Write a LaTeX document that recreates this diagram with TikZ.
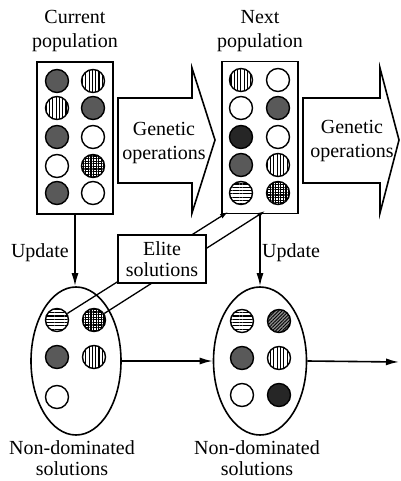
\documentclass[tikz,border=0pt]{standalone}
\usepackage{fontspec}
\setmainfont{Liberation Serif}
\usetikzlibrary{patterns.meta,arrows.meta,shapes.geometric}
\tikzset{
  lbl/.style={font=\fontsize{20}{24}\selectfont, align=center, inner sep=0pt},
  popbox/.style={draw, line width=1.6pt, minimum width=76pt, minimum height=152pt, inner sep=0pt},
  ndset/.style={ellipse, draw, line width=1.6pt, minimum height=148pt, inner sep=0pt},
  sol/.style={circle, draw, line width=1.4pt, minimum size=23pt, inner sep=0pt},
  stip/.style={sol, fill=black!65},
  vdark/.style={sol, fill=black!85},
  wht/.style={sol, fill=white},
  vert/.style={sol, pattern={Lines[angle=90,distance=3.3pt,line width=1.1pt]}},
  horz/.style={sol, pattern={Lines[angle=0,distance=3.3pt,line width=1.1pt]}},
  grd/.style={sol, preaction={pattern={Lines[angle=0,distance=2.6pt,line width=1.1pt]}},
              pattern={Lines[angle=90,distance=2.6pt,line width=1.1pt]}},
  diag/.style={sol, preaction={fill=black!45}, pattern={Lines[angle=45,distance=2.4pt,line width=0.9pt]}},
  blockarrow/.style={draw, line width=1.6pt, line join=miter},
  conn/.style={draw, line width=1.6pt, -{Latex[length=13pt,width=7pt]}},
  eliteconn/.style={draw, line width=1.3pt, -{Latex[length=8pt,width=5pt]}},
}
\begin{document}
\begin{tikzpicture}[x=1pt,y=-1pt]
\useasboundingbox (0,0) rectangle (400,481);

% population labels
\node[lbl] (curlbl) at (75,31) {Current\\population};
\node[lbl] (nxtlbl) at (260,31) {Next\\population};

% population boxes
\node[popbox] (cur) at (75,138) {};
\node[popbox] (nxt) at (260,137.5) {};

% current population
\node[stip] (c11) at (57,81) {};  \node[vert] (c12) at (93,81) {};
\node[vert] (c21) at (57,108) {}; \node[stip] (c22) at (93,108) {};
\node[stip] (c31) at (57,137) {}; \node[wht]  (c32) at (93,137) {};
\node[wht]  (c41) at (57,166) {}; \node[grd]  (c42) at (93,166) {};
\node[stip] (c51) at (57,193) {}; \node[wht]  (c52) at (93,193) {};

% next population
\node[vert]  (n11) at (241,80) {};  \node[wht]  (n12) at (278,80) {};
\node[wht]   (n21) at (241,108) {}; \node[stip] (n22) at (278,108) {};
\node[vdark] (n31) at (241,137) {}; \node[wht]  (n32) at (278,137) {};
\node[stip]  (n41) at (241,165) {}; \node[vert] (n42) at (278,165) {};
\node[horz]  (n51) at (241,193) {}; \node[grd]  (n52) at (278,193) {};

% block arrows
\path[blockarrow] (118,98) -- (192,98) -- (192,68) -- (215,140) -- (192,213) -- (192,183) -- (118,183) -- cycle;
\path[blockarrow] (303,98) -- (380,98) -- (380,68) -- (399,140) -- (380,213) -- (380,183) -- (303,183) -- cycle;
\node[lbl] (gen1) at (164,143) {Genetic\\operations};
\node[lbl] (gen2) at (352,141) {Genetic\\operations};

% non-dominated sets
\node[ndset, minimum width=90pt] (nd1) at (76,361) {};
\node[ndset, minimum width=93pt] (nd2) at (260,361) {};

\node[horz] (e11) at (57,320) {}; \node[grd]  (e12) at (94,320) {};
\node[stip] (e21) at (57,357) {}; \node[vert] (e22) at (94,357) {};
\node[wht]  (e31) at (57,397) {};

\node[horz] (f11) at (242,321) {}; \node[diag]  (f12) at (279,321) {};
\node[stip] (f21) at (242,358) {}; \node[vert]  (f22) at (279,358) {};
\node[wht]  (f31) at (242,395) {}; \node[vdark] (f32) at (279,395) {};

\node[lbl, font=\fontsize{20}{21}\selectfont] (ndlbl1) at (72,458) {Non-dominated\\solutions};
\node[lbl, font=\fontsize{20}{21}\selectfont] (ndlbl2) at (257,458) {Non-dominated\\solutions};

% update arrows
\draw[conn] (cur.south) -- (cur.south |- nd1.north);
\draw[conn] (nxt.south) -- (nxt.south |- nd2.north);
\node[lbl, anchor=east] (up1) at (69,253) {Update};
\node[lbl, anchor=west] (up2) at (262,253) {Update};

% elite connectors
\coordinate (t1) at (228,212);
\coordinate (t2) at (265,211);
\draw[eliteconn] (e11) -- (t1);
\draw[eliteconn] (e12) -- (t2);
\node[draw, fill=white, line width=1.6pt, minimum width=88pt, minimum height=48pt,
      inner sep=0pt, align=center, font=\fontsize{20}{21}\selectfont] (elite) at (162,259) {Elite\\solutions};

% horizontal arrows
\coordinate (rend) at (399,362);
\draw[conn] (nd1.east) -- (nd2.west);
\draw[conn] (nd2.east) -- (rend);
\end{tikzpicture}
\end{document}
